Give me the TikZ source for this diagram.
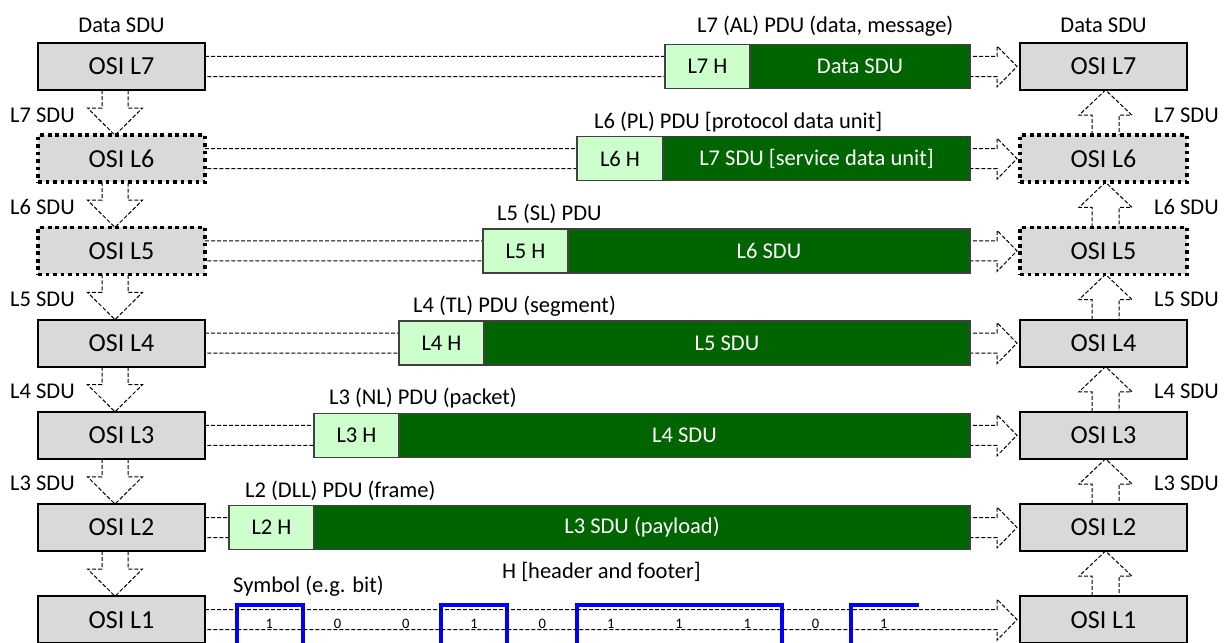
\documentclass[tikz,border=0pt]{standalone}
\usepackage{fontspec}
\setmainfont{Carlito}
\usetikzlibrary{calc}
\definecolor{boxgray}{HTML}{D9D9D9}
\definecolor{hgreen}{HTML}{CCFFCC}
\definecolor{dgreen}{HTML}{006400}
\definecolor{sigblue}{HTML}{0000FF}
\newcommand\lbl{\fontsize{22.5}{27}\selectfont}
\tikzset{
 osi/.style={draw=black, line width=1.8pt, fill=boxgray, minimum width=167pt, minimum height=47pt, inner sep=0pt, outer sep=0pt, font=\fontsize{26}{30}\selectfont},
 osidot/.style={osi, line width=3.6pt, dash pattern=on 3.6pt off 3.9pt},
 hdrbox/.style={draw=black!75, line width=1.3pt, fill=hgreen, minimum height=44pt, minimum width=85pt, inner sep=0pt, outer sep=0pt, font=\lbl},
 databox/.style={draw=black!75, line width=1.3pt, fill=dgreen, text=white, minimum height=44pt, inner sep=0pt, outer sep=0pt, anchor=west, font=\lbl},
 blk/.style={draw=black, line width=1pt, dash pattern=on 4pt off 2pt, line join=miter},
 lab/.style={font=\lbl, inner sep=0pt, anchor=base west},
 bitlab/.style={font=\fontsize{14.5}{16}\selectfont, inner sep=0pt, anchor=base},
 wave/.style={draw=sigblue, line width=3.6pt}
}
\newcommand\sdudown[2]{\draw[blk] ($(#1.south)+(-19.5,0)$) -- ($(#1.south)+(-19.5,18)$) -- ($(#1.south)+(-34,18)$) -- ($(#2.north)+(-6.5,0)$) -- ($(#1.south)+(21,18)$) -- ($(#1.south)+(6.5,18)$) -- ($(#1.south)+(6.5,0)$);}
\newcommand\sduup[2]{\draw[blk] ($(#1.north)+(-11.5,0)$) -- ($(#1.north)+(-11.5,-20)$) -- ($(#1.north)+(-24.5,-20)$) -- ($(#2.south)+(2,0)$) -- ($(#1.north)+(28.5,-20)$) -- ($(#1.north)+(15.5,-20)$) -- ($(#1.north)+(15.5,0)$);}
\newcommand\hconn[2]{\draw[blk] ($(#1.east)+(0,-10)$) -- ($(#2.west)+(-23,-10)$) -- ($(#2.west)+(-23,-20.5)$) -- ($(#2.west)+(-3,0)$) -- ($(#2.west)+(-23,20.5)$) -- ($(#2.west)+(-23,10)$) -- ($(#1.east)+(0,10)$);}
\begin{document}
\begin{tikzpicture}[x=1pt,y=-1pt]
\useasboundingbox (0,0) rectangle (1225,642);
\fill[white] (0,0) rectangle (1225,642);
% OSI boxes
\node[osi] (l7) at (121.5,66.5) {OSI L7};
\node[osidot] (l6) at (121.5,158.7) {OSI L6};
\node[osidot] (l5) at (121.5,250.9) {OSI L5};
\node[osi] (l4) at (121.5,343.1) {OSI L4};
\node[osi] (l3) at (121.5,435.3) {OSI L3};
\node[osi] (l2) at (121.5,527.5) {OSI L2};
\node[osi] (l1) at (121.5,619.7) {OSI L1};
\node[osi] (r7) at (1103.5,66.5) {OSI L7};
\node[osidot] (r6) at (1103.5,158.7) {OSI L6};
\node[osidot] (r5) at (1103.5,250.9) {OSI L5};
\node[osi] (r4) at (1103.5,343.1) {OSI L4};
\node[osi] (r3) at (1103.5,435.3) {OSI L3};
\node[osi] (r2) at (1103.5,527.5) {OSI L2};
\node[osi] (r1) at (1103.5,619.7) {OSI L1};
% vertical SDU arrows
\sdudown{l7}{l6}\sdudown{l6}{l5}\sdudown{l5}{l4}\sdudown{l4}{l3}\sdudown{l3}{l2}\sdudown{l2}{l1}
\sduup{r6}{r7}\sduup{r5}{r6}\sduup{r4}{r5}\sduup{r3}{r4}\sduup{r2}{r3}\sduup{r1}{r2}
% blue signal
\draw[wave] (237,650) -- (237,605) -- (303,605) -- (303,650);
\draw[wave] (441,650) -- (441,605) -- (507,605) -- (507,650);
\draw[wave] (577,650) -- (577,605) -- (782,605) -- (782,650);
\draw[wave] (851,650) -- (851,605) -- (919,605);
% horizontal connectors
\hconn{l7}{r7}\hconn{l6}{r6}\hconn{l5}{r5}\hconn{l4}{r4}\hconn{l3}{r3}\hconn{l2}{r2}\hconn{l1}{r1}
% PDUs
\node[hdrbox] (h7) at (707.5,66.5) {L7 H};
\node[databox, minimum width=220pt] (d7) at (h7.east) {Data SDU};
\node[hdrbox, minimum width=86pt] (h6) at (620,158.7) {L6 H};
\node[databox, minimum width=307pt] (d6) at (h6.east) {L7 SDU [service data unit]};
\node[hdrbox] (h5) at (525.5,250.9) {L5 H};
\node[databox, minimum width=402pt] (d5) at (h5.east) {L6 SDU};
\node[hdrbox] (h4) at (441.5,343.1) {L4 H};
\node[databox, minimum width=486pt] (d4) at (h4.east) {L5 SDU};
\node[hdrbox] (h3) at (356.5,435.3) {L3 H};
\node[databox, minimum width=571pt] (d3) at (h3.east) {L4 SDU};
\node[hdrbox] (h2) at (271.5,527.5) {L2 H};
\node[databox, minimum width=656pt] (d2) at (h2.east) {L3 SDU (payload)};
% PDU labels
\node[lab] (t7) at (697,33) {L7 (AL) PDU (data, message)};
\node[lab] (t6) at (594,128) {L6 (PL) PDU [protocol data unit]};
\node[lab] (t5) at (497,220) {L5 (SL) PDU};
\node[lab] (t4) at (413,312) {L4 (TL) PDU (segment)};
\node[lab] (t3) at (329,404) {L3 (NL) PDU (packet)};
\node[lab] (t2) at (245,497) {L2 (DLL) PDU (frame)};
\node[lab] (sym) at (233,592) {Symbol (e.g. bit)};
\node[lab] (hf) at (502,578) {H [header and footer]};
% top labels
\node[lab, anchor=base] (dsl) at (121.5,33) {Data SDU};
\node[lab, anchor=base] (dsr) at (1103.5,33) {Data SDU};
% side SDU labels
\node[lab] (sl7) at (10,122) {L7 SDU};
\node[lab] (sl6) at (10,214.2) {L6 SDU};
\node[lab] (sl5) at (10,306.4) {L5 SDU};
\node[lab] (sl4) at (10,398.6) {L4 SDU};
\node[lab] (sl3) at (10,490.8) {L3 SDU};
\node[lab] (sr7) at (1154,122) {L7 SDU};
\node[lab] (sr6) at (1154,214.2) {L6 SDU};
\node[lab] (sr5) at (1154,306.4) {L5 SDU};
\node[lab] (sr4) at (1154,398.6) {L4 SDU};
\node[lab] (sr3) at (1154,490.8) {L3 SDU};
% bits
\foreach \v [count=\j from 0] in {1,0,0,1,0,1,1,1,0,1}
  \node[bitlab] (b\j) at ({269.2+68.3*\j},628.5) {\v};
\end{tikzpicture}
\end{document}
